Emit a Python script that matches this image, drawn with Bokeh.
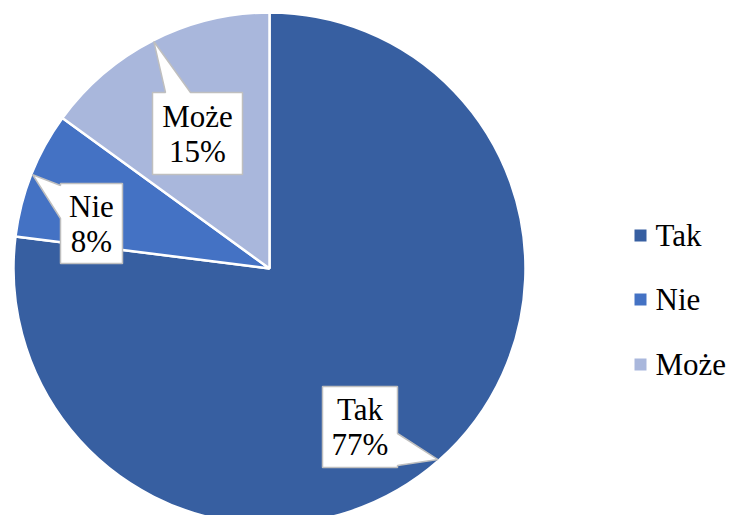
import numpy as np
from bokeh.plotting import figure
from bokeh.models import Range1d, ColumnDataSource
from bokeh.embed import file_html
from bokeh.resources import INLINE
from bokeh.core.properties import value

# ---- data ----
categories = ["Tak", "Nie", "Może"]
shares = [77, 8, 15]
colors = ["#375FA1", "#4472C4", "#A9B7DC"]

# ---- layout (pixel coordinates of the picture) ----
W, H = 727, 515
def P(x, y):
    return (x, H - y)

FONT = value("Liberation Serif")
FSIZE = "31px"

CX, CY = P(269, 268)
R = 256
# callout boxes: (left, top, right, bottom), pointer side, pointer base span
boxes = {
    "Tak": ((322, 386, 397, 467), "right", (433, 465)),
    "Nie": ((60, 183, 122, 263), "left", (185, 218)),
    "Może": ((152, 92, 242, 174), "top", (165, 190)),
}

p = figure(width=W, height=H, output_backend="svg", toolbar_location=None,
           x_range=Range1d(0, W), y_range=Range1d(0, H), min_border=0)
p.axis.visible = False
p.grid.visible = False
p.outline_line_color = None
p.background_fill_color = "white"
p.border_fill_color = "white"

total = float(sum(shares))
fr = np.cumsum([0] + shares) / total
start = np.pi / 2 - 2 * np.pi * fr[:-1]
end = np.pi / 2 - 2 * np.pi * fr[1:]
mid = (start + end) / 2

src = ColumnDataSource(dict(x=[CX] * 3, y=[CY] * 3, start=list(start), end=list(end),
                            color=colors, cat=categories))
p.wedge(x="x", y="y", radius=R, start_angle="start", end_angle="end", direction="clock",
        fill_color="color", line_color="white", line_width=2.5, source=src)

# callouts
xs, ys, tx, ty, tt = [], [], [], [], []
for i, cat in enumerate(categories):
    (L, T, Rr, B), side, (a, b) = boxes[cat]
    tipx = CX + R * 0.995 * np.cos(mid[i])
    tipy = CY + R * 0.995 * np.sin(mid[i])
    if side == "top":
        pts = [P(L, T), P(a, T), (tipx, tipy), P(b, T), P(Rr, T), P(Rr, B), P(L, B)]
    elif side == "left":
        pts = [P(L, T), P(Rr, T), P(Rr, B), P(L, B), P(L, b), (tipx, tipy), P(L, a)]
    else:
        pts = [P(L, T), P(Rr, T), P(Rr, a), (tipx, tipy), P(Rr, b), P(Rr, B), P(L, B)]
    xs.append([q[0] for q in pts])
    ys.append([q[1] for q in pts])
    c = P((L + Rr) / 2, (T + B) / 2)
    tx.append(c[0])
    ty.append(c[1])
    tt.append(f"{cat}\n{shares[i] / total * 100:.0f}%")

p.patches(xs=xs, ys=ys, fill_color="white", line_color="#BFBFBF", line_width=1.5)
p.text(x=tx, y=ty, text=tt, text_align="center", text_baseline="middle",
       text_font=FONT, text_font_size=FSIZE, text_color="black",
       text_line_height=1.0)

# legend
lx, ltx = P(640, 0)[0], P(655, 0)[0]
ly = [P(0, 235)[1], P(0, 299)[1], P(0, 364)[1]]
p.scatter(x=[lx] * 3, y=ly, marker="square", size=12, fill_color=colors, line_color=None)
p.text(x=[ltx] * 3, y=ly, text=categories, text_align="left", text_baseline="middle",
       text_font=FONT, text_font_size=FSIZE, text_color="black")

open("out.html", "w").write(file_html(p, INLINE))
